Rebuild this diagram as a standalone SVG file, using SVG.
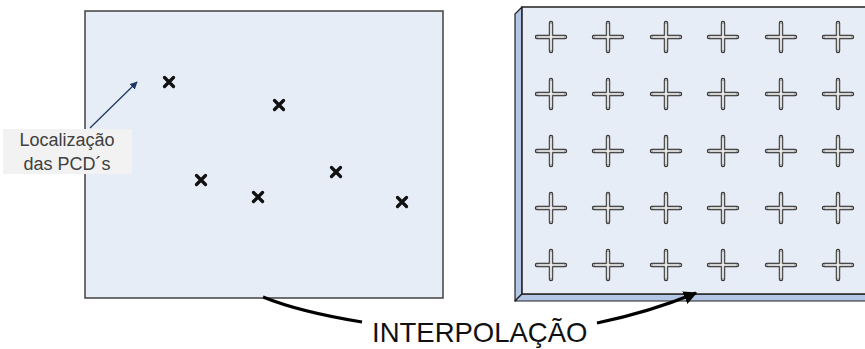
<svg xmlns="http://www.w3.org/2000/svg" width="865" height="349" viewBox="0 0 865 349">
<style>
.face{fill:#e7edf7;stroke:#404040;stroke-width:1.5}
.bevel{fill:#b3c6e6;stroke:#202020;stroke-width:1.2;stroke-linejoin:round}
.xm{stroke:#111;stroke-width:3.3;stroke-linecap:round;fill:none}
.c1{stroke:#2a2a2a;stroke-width:4.4;stroke-linecap:round;fill:none}
.c2{stroke:#a8a8a8;stroke-width:2.6;stroke-linecap:round;fill:none}
.c3{stroke:#ffffff;stroke-width:1.2;fill:none}
.lbl{font-family:"Liberation Sans",Arial,sans-serif;font-size:18px;fill:#404040;text-anchor:middle}
.big{font-family:"Liberation Sans",Arial,sans-serif;font-size:27.5px;fill:#111}
</style>
<defs>
<marker id="ah" viewBox="0 0 10 10" refX="9" refY="5" markerWidth="6" markerHeight="6" orient="auto" markerUnits="strokeWidth">
<path d="M0,0 L10,5 L0,10 z" fill="#1f3a60"/>
</marker>
<marker id="ahb" viewBox="0 0 10 10" refX="9" refY="5" markerWidth="4.5" markerHeight="4.5" orient="auto" markerUnits="strokeWidth">
<path d="M0,0 L10,5 L0,10 z" fill="#000"/>
</marker>
<g id="xs"><path class="xm" d="M-4.5,-4.5 L4.5,4.5 M4.5,-4.5 L-4.5,4.5"/></g>
<g id="cr">
<path class="c1" d="M-14,0 H14 M0,-14 V14"/>
<path class="c2" d="M-14,0 H14 M0,-14 V14"/>
<path class="c3" d="M-13,0 H13 M0,-13 V13"/>
</g>
</defs>

<g id="map-pcd">
<rect class="face" x="85" y="11" width="358" height="287"/>
<use href="#xs" x="169" y="82"/>
<use href="#xs" x="279" y="105"/>
<use href="#xs" x="201" y="180"/>
<use href="#xs" x="258" y="197"/>
<use href="#xs" x="336" y="172"/>
<use href="#xs" x="402" y="202"/>
</g>

<g id="label-pcd">
<rect x="3" y="129" width="129" height="45" fill="#f2f2f2"/>
<text class="lbl" x="67" y="146">Localização</text>
<text class="lbl" x="67" y="170">das PCD´s</text>
</g>

<g id="map-interp">
<polygon class="bevel" points="515,14 522,7 522,294 515,301"/>
<polygon class="bevel" points="515,301 522,294 866,294 873,301"/>
<rect class="face" x="522" y="7" width="350" height="287" style="stroke:#202020"/>
<g>
<use href="#cr" x="551" y="37"/><use href="#cr" x="608" y="37"/><use href="#cr" x="666" y="37"/><use href="#cr" x="723" y="37"/><use href="#cr" x="781" y="37"/><use href="#cr" x="838" y="37"/>
<use href="#cr" x="551" y="94"/><use href="#cr" x="608" y="94"/><use href="#cr" x="666" y="94"/><use href="#cr" x="723" y="94"/><use href="#cr" x="781" y="94"/><use href="#cr" x="838" y="94"/>
<use href="#cr" x="551" y="151"/><use href="#cr" x="608" y="151"/><use href="#cr" x="666" y="151"/><use href="#cr" x="723" y="151"/><use href="#cr" x="781" y="151"/><use href="#cr" x="838" y="151"/>
<use href="#cr" x="551" y="208"/><use href="#cr" x="608" y="208"/><use href="#cr" x="666" y="208"/><use href="#cr" x="723" y="208"/><use href="#cr" x="781" y="208"/><use href="#cr" x="838" y="208"/>
<use href="#cr" x="551" y="265"/><use href="#cr" x="608" y="265"/><use href="#cr" x="666" y="265"/><use href="#cr" x="723" y="265"/><use href="#cr" x="781" y="265"/><use href="#cr" x="838" y="265"/>
</g>
</g>

<g id="label-interp">
<text class="big" x="372" y="342">INTERPOLAÇÃO</text>
</g>

<g id="connectors">
<path d="M90,128 L137,82" stroke="#1f3a60" stroke-width="1.3" fill="none" marker-end="url(#ah)"/>
<path d="M263,297 Q300,312 362,322" stroke="#000" stroke-width="3" fill="none"/>
<path d="M597,323 Q650,312 696,293" stroke="#000" stroke-width="3" fill="none" marker-end="url(#ahb)"/>
</g>
</svg>
